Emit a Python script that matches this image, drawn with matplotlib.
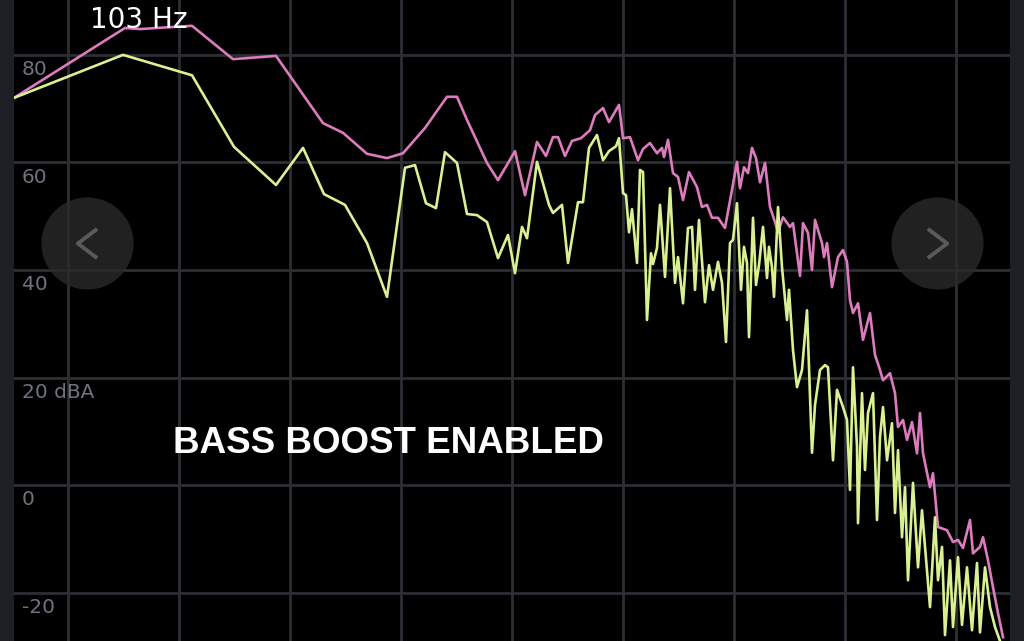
import numpy as np
import matplotlib.pyplot as plt
from matplotlib.path import Path

# spectrum, bass boost on (pink) - x is display bin, y in dBA
boost_bin = [0, 111, 126, 178, 219, 262, 309, 329, 353, 373, 389, 411, 433, 443, 453, 473,
             484, 501, 511, 523, 532, 539, 544, 551, 558, 567, 576, 581, 589, 595, 605, 609,
             616, 624, 629, 636, 643, 648, 650, 654, 659, 664, 669, 675, 683, 688, 693, 698,
             704, 711, 718, 723, 726, 730, 734, 738, 742, 746, 751, 756, 761, 764, 769, 776,
             779, 786, 789, 794, 798, 801, 808, 810, 813, 818, 824, 829, 833, 836, 839, 844,
             849, 856, 861, 866, 869, 876, 881, 884, 889, 893, 898, 903, 906, 909, 916, 919,
             924, 933, 939, 944, 949, 956, 959, 966, 969, 974, 979, 984, 989]
boost_db = [72.0, 85.0, 84.8, 85.4, 79.2, 79.8, 67.3, 65.5, 61.6, 60.8, 61.7, 66.4, 72.2, 72.2, 67.9, 59.9,
            56.7, 62.1, 53.9, 63.8, 61.2, 64.7, 64.7, 61.2, 64.0, 64.5, 66.0, 68.8, 70.1, 67.5, 70.7, 64.5,
            64.7, 60.4, 62.5, 63.6, 61.7, 62.7, 61.0, 64.2, 58.0, 57.3, 53.0, 58.2, 55.4, 51.7, 52.1, 49.7,
            49.7, 47.8, 54.9, 60.1, 55.2, 59.1, 58.0, 62.7, 60.8, 56.3, 59.9, 51.7, 48.9, 47.0, 49.8, 48.0,
            48.7, 38.9, 48.7, 46.9, 40.0, 49.3, 45.0, 42.4, 45.0, 36.8, 42.4, 43.7, 41.5, 34.4, 32.0, 33.8,
            27.0, 32.0, 24.2, 21.4, 19.5, 20.8, 17.1, 10.8, 12.1, 8.4, 11.7, 5.9, 13.4, 5.9, -0.4, 2.2,
            -7.8, -8.4, -10.6, -10.2, -11.7, -6.5, -12.7, -11.5, -9.7, -14.0, -19.0, -23.8, -28.3]

# spectrum, reference (green)
ref_bin = [0, 109, 178, 220, 262, 289, 310, 331, 353, 373, 391, 401, 412, 422, 431, 443,
           453, 463, 473, 484, 494, 501, 508, 513, 523, 535, 539, 548, 554, 564, 569, 575,
           583, 589, 595, 602, 605, 609, 612, 615, 618, 623, 626, 629, 633, 637, 639, 643,
           646, 651, 656, 661, 664, 669, 674, 678, 681, 685, 691, 695, 699, 704, 708, 712,
           716, 719, 723, 727, 730, 733, 735, 739, 742, 745, 749, 753, 755, 758, 760, 764,
           768, 773, 775, 779, 783, 788, 793, 798, 801, 806, 811, 814, 819, 823, 829, 833,
           836, 839, 843, 844, 848, 851, 854, 859, 863, 866, 869, 873, 878, 881, 884, 888,
           891, 894, 899, 904, 908, 911, 916, 921, 924, 928, 931, 936, 939, 944, 948, 953,
           958, 963, 966, 971, 976, 981, 986]
ref_db = [72.0, 80.0, 76.2, 62.9, 55.8, 62.7, 54.1, 52.1, 45.0, 35.0, 59.0, 59.5, 52.4, 51.5, 61.9, 59.9,
          50.4, 50.2, 48.9, 42.2, 46.5, 39.4, 48.0, 45.9, 60.1, 52.1, 50.6, 52.1, 41.3, 52.6, 52.6, 62.7,
          65.1, 60.4, 62.1, 63.0, 64.5, 54.3, 53.9, 47.0, 51.3, 41.3, 58.6, 58.2, 30.7, 43.1, 41.1, 44.1,
          52.1, 38.7, 55.2, 37.6, 42.4, 33.8, 47.8, 48.0, 36.3, 49.3, 34.0, 40.9, 36.3, 41.5, 37.6, 26.6,
          45.0, 45.6, 52.4, 36.3, 44.3, 41.3, 27.5, 49.7, 37.2, 40.9, 48.0, 38.5, 44.3, 40.5, 35.0, 51.7,
          40.5, 30.7, 36.3, 25.1, 18.2, 21.4, 32.5, 6.0, 14.9, 21.4, 22.3, 21.9, 4.6, 17.7, 14.5, 12.1,
          -0.9, 21.9, 7.1, -7.1, 17.1, 2.8, 13.4, 17.1, -6.5, 8.9, 14.5, 4.6, 11.5, -5.2, 6.5, -9.7,
          -0.4, -17.7, 0.4, -15.3, -4.7, -11.5, -22.7, -6.0, -17.7, -11.5, -27.9, -14.0, -26.4, -13.4, -26.0, -15.3,
          -27.0, -14.5, -27.4, -15.3, -22.7, -26.4, -29.0]

db_ticks = [80, 60, 40, 20, 0, -20]
db_labels = ["80", "60", "40", "20 dBA", "0", "-20"]
grid_bins = [54, 165, 276, 387, 498, 609, 720, 831, 942]

peak_label = "103 Hz"
peak_bin, peak_db = 125, 86.5
banner = "BASS BOOST ENABLED"
banner_bin, banner_db = 374, 7.8

fig = plt.figure(figsize=(10.24, 6.41), dpi=100, facecolor="#1c1f26")
ax = fig.add_axes([14 / 1024, 0, 996 / 1024, 1])
ax.set_facecolor("black")
ax.set_xlim(0, 996)
ax.set_ylim(-29.0, 90.2)

ax.set_xticks(grid_bins)
ax.set_yticks(db_ticks)
ax.grid(True, color="#2d2f35", linewidth=2.0)
ax.set_axisbelow(True)
ax.tick_params(length=0, labelleft=False, labelbottom=False)
for s in ax.spines.values():
    s.set_visible(False)

ax.plot(boost_bin, boost_db, color="#dc7bbd", linewidth=1.9, zorder=3)
ax.plot(ref_bin, ref_db, color="#daf191", linewidth=1.9, zorder=4)

for v, lab in zip(db_ticks, db_labels):
    ax.text(8, v - 1.0, lab, color="#6f737d", fontsize=14.5, va="top", ha="left", zorder=5)

ax.text(peak_bin, peak_db, peak_label, color="white", fontsize=20, ha="center", va="center", zorder=6)
ax.text(banner_bin, banner_db, banner, color="white", fontsize=26.5, fontweight="bold",
        family="Liberation Sans", ha="center", va="center", zorder=6)

# prev / next buttons
ax.scatter([73, 923], [45, 45], s=4400, color="#2a2a2a", alpha=0.8, linewidths=0, zorder=7)
left_chev = Path([(0.33, 0.5), (-0.33, 0.0), (0.33, -0.5)], [Path.MOVETO, Path.LINETO, Path.LINETO])
right_chev = Path([(-0.33, 0.5), (0.33, 0.0), (-0.33, -0.5)], [Path.MOVETO, Path.LINETO, Path.LINETO])
ax.plot([73], [45], marker=left_chev, markersize=21, mfc="none", mec="#5a5a5a", mew=2.8, zorder=8)
ax.plot([923], [45], marker=right_chev, markersize=21, mfc="none", mec="#5a5a5a", mew=2.8, zorder=8)

fig.savefig("out.png", dpi=100, facecolor=fig.get_facecolor())
